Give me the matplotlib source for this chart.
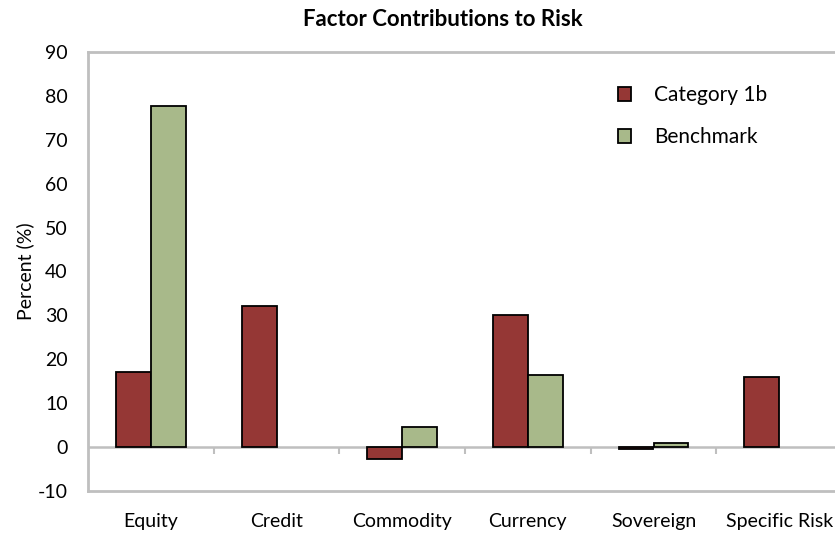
import matplotlib
matplotlib.use("Agg")
import matplotlib.pyplot as plt
import numpy as np

plt.rcParams['font.family'] = ['Lato', 'DejaVu Sans']
plt.rcParams['axes.unicode_minus'] = False

categories = ["Equity", "Credit", "Commodity", "Currency", "Sovereign", "Specific Risk"]
category_1b = [17.0, 32.1, -2.7, 30.1, -0.4, 15.9]
benchmark = [77.7, np.nan, 4.6, 16.4, 1.0, np.nan]
series_names = ["Category 1b", "Benchmark"]
y_ticks = [-10, 0, 10, 20, 30, 40, 50, 60, 70, 80, 90]

red = "#953735"
green = "#A8B98A"
frame_grey = "#BFBFBF"

W, H = 835, 533
fig = plt.figure(figsize=(W / 100, H / 100), dpi=100)
ax = fig.add_axes([88 / W, (H - 491) / H, (842 - 88) / W, (491 - 52) / H])

x = np.arange(len(categories))
bw = 0.278
ax.bar(x - bw / 2, category_1b, bw, color=red, edgecolor="black", linewidth=1.3,
       label=series_names[0], zorder=3)
ax.bar(x + bw / 2, benchmark, bw, color=green, edgecolor="black", linewidth=1.3,
       label=series_names[1], zorder=3)

ax.set_xlim(-0.5, len(categories) - 0.5)
ax.set_ylim(y_ticks[0], y_ticks[-1])
ax.set_yticks(y_ticks)
ax.tick_params(axis="y", length=0, pad=14.5, labelsize=14)
ax.set_xticks(x)
ax.set_xticklabels(categories)
ax.tick_params(axis="x", length=0, pad=16, labelsize=14)

for s in ax.spines.values():
    s.set_color(frame_grey)
    s.set_linewidth(2)

# category axis running through zero, with tick marks between groups
ax.axhline(0, color=frame_grey, linewidth=1.8, zorder=2)
tick_len = 7 * (y_ticks[-1] - y_ticks[0]) / (491 - 52)
bounds = np.arange(0.5, len(categories) - 0.5, 1.0)
ax.vlines(bounds, -tick_len, 0, color=frame_grey, linewidth=1.5, zorder=2)

ax.set_ylabel("Percent (%)", fontsize=14, labelpad=3)

fig.text(443 / W, 1 - 20 / H, "Factor Contributions to Risk", ha="center", va="center",
         fontsize=16, fontweight="bold")

leg = ax.legend(loc="upper left", bbox_to_anchor=(608 / W, 1 - 75 / H),
                bbox_transform=fig.transFigure, frameon=False, fontsize=15,
                handlelength=0.6, handleheight=0.6, handletextpad=1.1,
                labelspacing=1.05, borderpad=0)

fig.savefig("out.png", dpi=100)
